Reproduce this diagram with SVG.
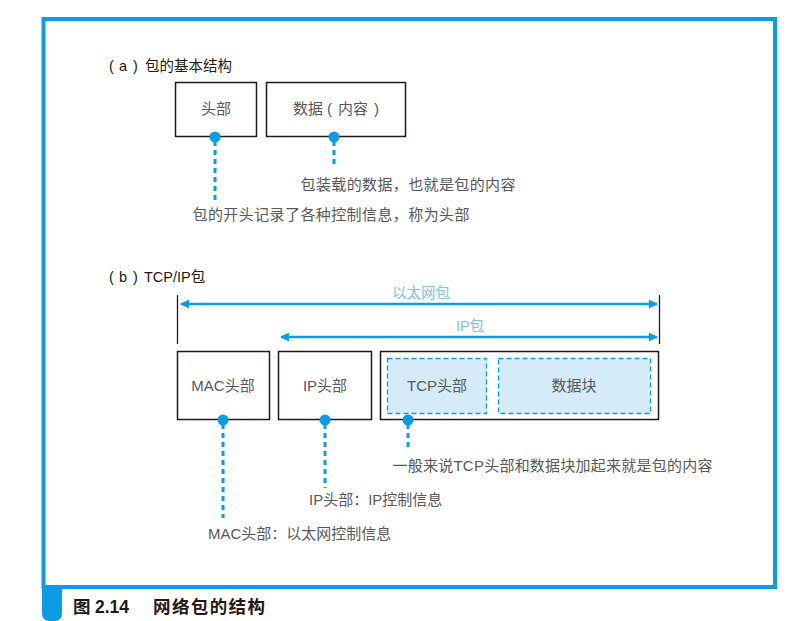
<svg xmlns="http://www.w3.org/2000/svg" width="806" height="621" viewBox="0 0 806 621">
<style>
.box{fill:#fff;stroke:#231815;stroke-width:1.5}
.inner{fill:#d5ebf8;stroke:#0a9de3;stroke-width:1.3;stroke-dasharray:5 3}
.t{font-family:"Liberation Sans","Noto Sans CJK SC",sans-serif;font-size:15px;fill:#595757}
.c{text-anchor:middle}
.title{font-family:"Liberation Sans","Noto Sans CJK SC",sans-serif;font-size:14.5px;fill:#231815}
.lb{font-family:"Liberation Sans","Noto Sans CJK SC",sans-serif;font-size:14.5px;fill:#7cc3ee;text-anchor:middle}
.dot{fill:#0a9de3}
.lead{stroke:#0a9de3;stroke-width:3;stroke-dasharray:5 4;fill:none}
.arr{stroke:#0a9de3;stroke-width:2.5;fill:none}
.brk{stroke:#231815;stroke-width:1.3}
</style>
<defs>
<marker id="ah" viewBox="0 0 10 10" refX="9" refY="5" markerWidth="3.8" markerHeight="3.6" orient="auto-start-reverse" markerUnits="strokeWidth">
<path d="M0,0 L10,5 L0,10 z" fill="#0a9de3"/>
</marker>
</defs>
<rect width="806" height="621" fill="#fff"/>
<rect x="43.5" y="19" width="731.5" height="568" fill="none" stroke="#0a9de3" stroke-width="4"/>
<path d="M42,587 H62 V614 a7,7 0 0 1 -7,7 H49 a7,7 0 0 1 -7,-7 z" fill="#0a9de3"/>
<text y="613" font-family="Liberation Sans,'Noto Sans CJK SC',sans-serif" font-size="17.5" font-weight="bold" fill="#231815"><tspan x="73">图</tspan><tspan x="95">2.14</tspan><tspan x="153" textLength="112" lengthAdjust="spacing">网络包的结构</tspan></text>

<text class="title" y="71"><tspan x="109">(</tspan><tspan x="119">a</tspan><tspan x="133">)</tspan><tspan x="145">包的基本结构</tspan></text>
<text class="title" y="282"><tspan x="109">(</tspan><tspan x="119">b</tspan><tspan x="133">)</tspan><tspan x="144">TCP/IP包</tspan></text>

<g id="header-a">
<rect class="box" x="175.5" y="82.5" width="81" height="54"/>
<text class="t c" x="216" y="114">头部</text>
</g>
<g id="data-a">
<rect class="box" x="266.5" y="82.5" width="139" height="54"/>
<text class="t" y="114"><tspan x="293">数据</tspan><tspan x="327">(</tspan><tspan x="338">内容</tspan><tspan x="374">)</tspan></text>
</g>

<g id="mac-header">
<rect class="box" x="177.5" y="351.5" width="92" height="68"/>
<text class="t c" x="223" y="391">MAC头部</text>
</g>
<g id="ip-header">
<rect class="box" x="278.5" y="351.5" width="93" height="68"/>
<text class="t c" x="325" y="391">IP头部</text>
</g>
<g id="ip-payload">
<rect class="box" x="380.5" y="351.5" width="278" height="68"/>
</g>
<g id="tcp-header">
<rect class="inner" x="387.5" y="358.5" width="99" height="55"/>
<text class="t c" x="437" y="391">TCP头部</text>
</g>
<g id="data-block">
<rect class="inner" x="498.5" y="358.5" width="152" height="55"/>
<text class="t c" x="574" y="391">数据块</text>
</g>

<g id="connectors">
<line class="brk" x1="177.5" y1="295" x2="177.5" y2="344"/>
<line class="brk" x1="659.5" y1="295" x2="659.5" y2="344"/>
<line class="arr" x1="181" y1="304" x2="657" y2="304" marker-start="url(#ah)" marker-end="url(#ah)"/>
<line class="arr" x1="281" y1="337" x2="657" y2="337" marker-start="url(#ah)" marker-end="url(#ah)"/>

<line class="lead" x1="215" y1="141" x2="215" y2="200"/>
<line class="lead" x1="334" y1="141" x2="334" y2="167"/>
<line class="lead" x1="223" y1="424" x2="223" y2="518"/>
<line class="lead" x1="325" y1="424" x2="325" y2="488"/>
<line class="lead" x1="408" y1="424" x2="408" y2="449"/>
<circle class="dot" cx="215" cy="137" r="5.5"/>
<circle class="dot" cx="334" cy="137" r="5.5"/>
<circle class="dot" cx="223" cy="420" r="5.5"/>
<circle class="dot" cx="325" cy="420" r="5.5"/>
<circle class="dot" cx="408" cy="420" r="5.5"/>
</g>

<text class="lb" x="421" y="298">以太网包</text>
<text class="lb" x="470" y="331">IP包</text>

<text class="t" x="300.5" y="190" textLength="215" lengthAdjust="spacing">包装载的数据，也就是包的内容</text>
<text class="t" x="192.5" y="220" textLength="277" lengthAdjust="spacing">包的开头记录了各种控制信息，称为头部</text>
<text class="t" x="392.5" y="471" textLength="320" lengthAdjust="spacing">一般来说TCP头部和数据块加起来就是包的内容</text>
<text class="t" x="309" y="505">IP头部：IP控制信息</text>
<text class="t" x="208" y="539">MAC头部：以太网控制信息</text>
</svg>
